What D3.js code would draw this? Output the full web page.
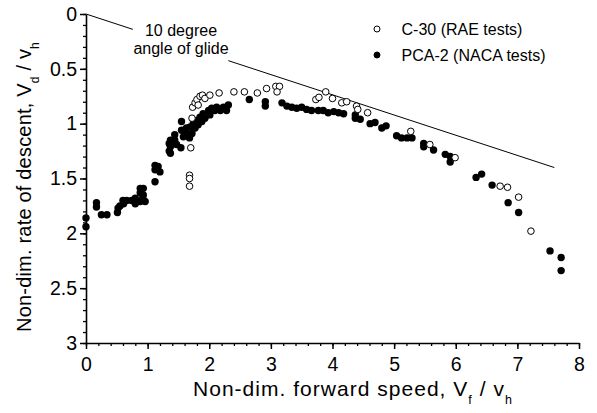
<!DOCTYPE html>
<html>
<head>
<meta charset="utf-8">
<script src="https://cdn.jsdelivr.net/npm/d3@7"></script>
<style>
  html, body { margin: 0; padding: 0; background: #fff; }
  svg { display: block; font-family: "Liberation Sans", Arial, sans-serif; }
</style>
</head>
<body>
<svg id="chart" width="597" height="413"></svg>
<script>
// ---- Data ----
const c30X = [1.68,1.68,1.68,1.70,1.72,1.73,1.77,1.80,1.82,1.85,1.89,1.93,2.01,2.16,2.40,2.57,2.78,2.93,3.08,3.14,3.10,3.73,3.78,3.89,4.00,4.15,4.23,4.39,4.41,4.57,5.27,5.58,5.99,6.72,6.84,7.02,7.22];
const c30Y = [1.47,1.50,1.57,1.22,0.95,0.85,0.81,0.78,0.83,0.75,0.74,0.77,0.74,0.72,0.71,0.71,0.72,0.68,0.66,0.66,0.71,0.78,0.76,0.71,0.77,0.81,0.80,0.84,0.87,0.90,1.07,1.19,1.31,1.57,1.58,1.67,1.98];

const pcaX = [0.00,0.00,0.17,0.17,0.25,0.34,0.51,0.52,0.55,0.60,0.61,0.66,0.74,0.80,0.80,0.88,0.93,0.88,0.93,0.88,0.96,0.92,
  1.12,1.17,1.12,1.20,1.12,
  1.35,1.35,1.37,1.37,1.37,1.44,1.44,1.47,1.55,1.55,1.54,1.58,1.63,1.66,1.69,1.72,1.74,1.77,1.80,1.82,1.85,1.88,1.90,1.93,1.99,2.01,2.04,2.09,2.12,2.18,2.23,2.31,2.28,1.61,1.68,
  2.65,2.91,2.91,3.18,3.26,3.34,3.42,3.50,3.58,3.66,3.77,3.85,3.93,4.02,4.10,4.18,4.37,4.37,4.45,4.61,4.69,4.80,4.87,5.04,5.12,5.21,5.29,5.48,5.48,5.64,5.83,5.91,5.91,6.33,6.42,6.59,6.85,7.02,7.53,7.71,7.71];
const pcaY = [1.86,1.94,1.72,1.76,1.83,1.83,1.81,1.77,1.75,1.70,1.73,1.70,1.70,1.68,1.73,1.59,1.59,1.63,1.65,1.71,1.71,1.68,
  1.38,1.39,1.42,1.44,1.53,
  1.18,1.25,1.15,1.21,1.27,1.10,1.15,1.19,0.98,1.06,1.22,1.12,1.04,1.10,1.03,1.09,1.00,1.04,0.97,1.01,0.94,0.98,0.91,0.95,0.88,0.92,0.86,0.88,0.85,0.88,0.85,0.83,0.88,1.09,1.13,
  0.78,0.80,0.84,0.81,0.84,0.85,0.86,0.85,0.87,0.88,0.88,0.88,0.90,0.89,0.90,0.91,0.92,0.95,0.96,1.00,0.99,1.04,1.02,1.11,1.13,1.13,1.13,1.18,1.21,1.24,1.28,1.30,1.35,1.49,1.46,1.56,1.72,1.81,2.16,2.22,2.34];

// 10 degree glide line (broken around its label)
const glideSegments = [[[0, 0], [0.76, 0.14]], [[2.31, 0.4255], [7.6, 1.4]]];
const glideLabel = ["10 degree", "angle of glide"];

const xTicks = [0,1,2,3,4,5,6,7,8];
const yTicks = [0,0.5,1,1.5,2,2.5,3];
const yTickLabels = ["0","0.5","1","1.5","2","2.5","3"];
const seriesNames = ["C-30 (RAE tests)", "PCA-2 (NACA tests)"];

// ---- Chart ----
const svg = d3.select("#chart");
const x = d3.scaleLinear().domain([0, 8]).range([86, 579]);
const y = d3.scaleLinear().domain([0, 3]).range([14, 343]);

const tickFont = 19.5;

// minor ticks
svg.append("g").attr("transform", `translate(0,${y(3)})`)
  .call(d3.axisBottom(x).tickValues(d3.range(0, 8.01, 0.2)).tickSize(3).tickFormat(""))
  .call(g => g.select(".domain").remove())
  .call(g => g.selectAll("line").attr("stroke", "#000").attr("stroke-width", 1.3));
svg.append("g").attr("transform", `translate(${x(0)},0)`)
  .call(d3.axisLeft(y).tickValues(d3.range(0, 3.001, 0.1)).tickSize(3).tickFormat(""))
  .call(g => g.select(".domain").remove())
  .call(g => g.selectAll("line").attr("stroke", "#000").attr("stroke-width", 1.3));

// major axes
const xAxis = svg.append("g").attr("transform", `translate(0,${y(3)})`)
  .call(d3.axisBottom(x).tickValues(xTicks).tickSize(6).tickPadding(8).tickSizeOuter(0).tickFormat(d3.format("d")));
const yAxis = svg.append("g").attr("transform", `translate(${x(0)},0)`)
  .call(d3.axisLeft(y).tickValues(yTicks).tickSize(6).tickPadding(3).tickSizeOuter(0)
    .tickFormat((d, i) => yTickLabels[i]));
[xAxis, yAxis].forEach(g => {
  g.select(".domain").attr("stroke", "#000").attr("stroke-width", 1.6);
  g.selectAll("line").attr("stroke", "#000").attr("stroke-width", 1.5);
  g.selectAll("text").attr("fill", "#000").style("font-size", tickFont + "px")
    .style("font-family", "'Liberation Sans', Arial, sans-serif");
});

// glide line
const line = d3.line().x(d => x(d[0])).y(d => y(d[1]));
svg.append("g").selectAll("path").data(glideSegments).join("path")
  .attr("d", line).attr("fill", "none").attr("stroke", "#000").attr("stroke-width", 1);
svg.append("g").selectAll("text").data(glideLabel).join("text")
  .attr("x", 181).attr("y", (d, i) => 36 + i * 18)
  .attr("text-anchor", "middle").style("font-size", "16px").text(d => d);

// data points
const c30 = c30X.map((v, i) => [v, c30Y[i]]);
const pca = pcaX.map((v, i) => [v, pcaY[i]]);
svg.append("g").selectAll("circle").data(pca).join("circle")
  .attr("cx", d => x(d[0])).attr("cy", d => y(d[1])).attr("r", 3.7).attr("fill", "#000");
svg.append("g").selectAll("circle").data(c30).join("circle")
  .attr("cx", d => x(d[0])).attr("cy", d => y(d[1])).attr("r", 3.3)
  .attr("fill", "#fff").attr("stroke", "#000").attr("stroke-width", 1);

// legend
const leg = svg.append("g");
seriesNames.forEach((name, i) => {
  const cy = 29 + i * 26;
  leg.append("circle").attr("cx", 377).attr("cy", cy).attr("r", 3)
    .attr("fill", i === 0 ? "#fff" : "#000").attr("stroke", "#000").attr("stroke-width", 1);
  leg.append("text").attr("x", 401.5).attr("y", cy + 5.7).style("font-size", "16px").text(name);
});

// axis titles
function fitSpacing(sel, target) {
  const w = sel.node().getBBox().width;
  const n = sel.text().length;
  sel.style("letter-spacing", ((target - w) / n) + "px");
}
const xt = svg.append("text").attr("x", 193).attr("y", 396).attr("text-anchor", "start").style("font-size", "21px");
xt.append("tspan").text("Non-dim. forward speed, V");
xt.append("tspan").attr("dy", 8).style("font-size", "12.5px").text("f");
xt.append("tspan").attr("dy", -8).text(" / v");
xt.append("tspan").attr("dy", 8).style("font-size", "12.5px").text("h");
fitSpacing(xt, 320);

const yt = svg.append("text").attr("transform", "translate(31,332) rotate(-90)")
  .attr("text-anchor", "start").style("font-size", "20px");
yt.append("tspan").text("Non-dim. rate of descent, V");
yt.append("tspan").attr("dy", 8).style("font-size", "12px").text("d");
yt.append("tspan").attr("dy", -8).text(" / v");
yt.append("tspan").attr("dy", 8).style("font-size", "12px").text("h");
fitSpacing(yt, 290);
</script>
</body>
</html>
